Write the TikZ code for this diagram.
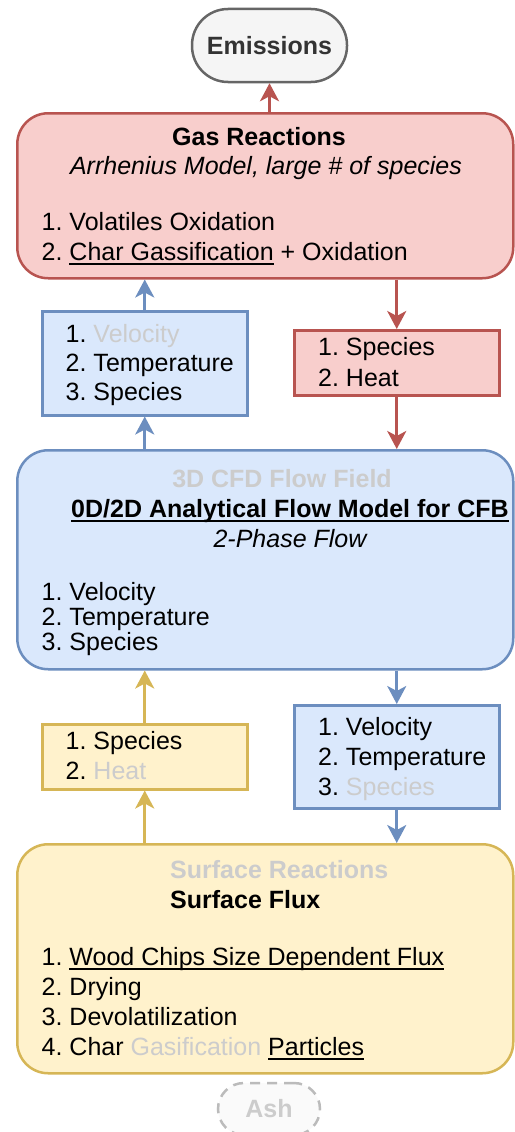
\documentclass[tikz,border=0pt]{standalone}
\usepackage{fontspec}
\setmainfont{Liberation Sans}
\usetikzlibrary{positioning,arrows.meta}

\definecolor{redfill}{HTML}{F8CECC}
\definecolor{redline}{HTML}{B85450}
\definecolor{bluefill}{HTML}{DAE8FC}
\definecolor{blueline}{HTML}{6C8EBF}
\definecolor{yelfill}{HTML}{FFF2CC}
\definecolor{yelline}{HTML}{D6B656}
\definecolor{faded}{HTML}{CCCCCC}
\definecolor{greyfill}{HTML}{F5F5F5}
\definecolor{greyline}{HTML}{666666}
\definecolor{greytext}{HTML}{333333}

\newcommand{\undl}[1]{\setbox0\hbox{#1}\rlap{\rule[-4.5pt]{\wd0}{2pt}}\box0\relax}
\newcommand{\grayed}[1]{\textcolor{faded}{#1}}
\frenchspacing

\begin{document}
\begin{tikzpicture}[x=1pt,y=-1pt,
  txt/.style={font=\fontsize{25}{30}\selectfont, inner sep=0pt, anchor=base west},
  head/.style={txt, anchor=base, font=\fontsize{25}{30}\selectfont\bfseries},
  subhead/.style={txt, anchor=base, font=\fontsize{25}{30}\selectfont\itshape},
  bigbox/.style={draw, line width=2.5pt, rounded corners=31pt, minimum width=496pt, anchor=north west},
  smallbox/.style={draw, line width=2.5pt, minimum width=205pt, anchor=north west},
  arr/.style={line width=3pt, -{Stealth[length=18pt,width=19pt,inset=5pt]}}]
\useasboundingbox (0,0) rectangle (514,1132);

% the three models
\node[bigbox, fill=redfill, draw=redline, minimum height=165pt] (gas) at (16,112) {};
\node[bigbox, fill=bluefill, draw=blueline, minimum height=219pt] (cfd) at (16,449) {};
\node[bigbox, fill=yelfill, draw=yelline, minimum height=229pt] (surf) at (16,843) {};

% exchanged quantities
\node[smallbox, fill=bluefill, draw=blueline, minimum height=104pt] (vel) at (41,310) {};
\node[smallbox, fill=redfill, draw=redline, minimum height=65pt] (rheat) at (293,329) {};
\node[smallbox, fill=yelfill, draw=yelline, minimum height=65pt] (yspec) at (41,723) {};
\node[smallbox, fill=bluefill, draw=blueline, minimum height=103pt] (bvel) at (293,704) {};

\node[draw=greyline, fill=greyfill, line width=2.5pt, rounded corners=36pt, minimum width=155pt, minimum height=73pt,
  font=\fontsize{25}{30}\selectfont\bfseries, text=greytext] (emis) at (269.5,45.5) {Emissions};
\node[draw={rgb,255:red,187;green,187;blue,187}, fill={rgb,255:red,250;green,250;blue,250}, line width=2.5pt, dash pattern=on 10pt off 7pt,
  rounded corners=26pt, minimum width=102pt, minimum height=52pt,
  font=\fontsize{25}{30}\selectfont\bfseries, text=faded] (ash) at (269,1109) {Ash};

% gas reactions
\node[head] (gastitle) at (259,145) {Gas Reactions};
\node[subhead] (gassub) at (266,174) {Arrhenius Model, large \# of species};
\node[txt] (gas1) at (41.5,230) {1. Volatiles Oxidation};
\node[txt] (gas2) at (41.5,260) {2. \undl{Char Gassification} + Oxidation};

\node[txt] (vel1) at (65.5,342) {1. \grayed{Velocity}};
\node[txt] (vel2) at (65.5,371) {2. Temperature};
\node[txt] (vel3) at (65.5,400) {3. Species};

\node[txt] (rheat1) at (318,355) {1. Species};
\node[txt] (rheat2) at (318,386) {2. Heat};

% flow model
\node[head, text=faded] (cfdold) at (282,487) {3D CFD Flow Field};
\node[head] (cfdtitle) at (290,517) {\undl{0D/2D Analytical Flow Model for CFB}};
\node[subhead] (cfdsub) at (290,547) {2-Phase Flow};
\node[txt] (cfd1) at (41.5,600) {1. Velocity};
\node[txt] (cfd2) at (41.5,625) {2. Temperature};
\node[txt] (cfd3) at (41.5,650) {3. Species};

\node[txt] (yspec1) at (65.5,749) {1. Species};
\node[txt] (yspec2) at (65.5,779) {2. \grayed{Heat}};

\node[txt] (bvel1) at (318,735) {1. Velocity};
\node[txt] (bvel2) at (318,765) {2. Temperature};
\node[txt] (bvel3) at (318,795) {3. \grayed{Species}};

% surface
\node[txt, font=\fontsize{25}{30}\selectfont\bfseries, text=faded] (surfold) at (170,878) {Surface Reactions};
\node[txt, font=\fontsize{25}{30}\selectfont\bfseries] (surftitle) at (170,908) {Surface Flux};
\node[txt] (surf1) at (41.5,965) {1. \undl{Wood Chips Size Dependent Flux}};
\node[txt] (surf2) at (41.5,995) {2. Drying};
\node[txt] (surf3) at (41.5,1025) {3. Devolatilization};
\node[txt] (surf4) at (41.5,1055) {4. Char \grayed{Gasification} \undl{Particles}};

\draw[arr, redline] (emis.south |- gas.north) -- (emis.south);
\draw[arr, blueline] (vel.north) -- (vel.north |- gas.south);
\draw[arr, blueline] (vel.south |- cfd.north) -- (vel.south);
\draw[arr, redline] (rheat.north |- gas.south) -- (rheat.north);
\draw[arr, redline] (rheat.south) -- (rheat.south |- cfd.north);
\draw[arr, yelline] (yspec.north) -- (yspec.north |- cfd.south);
\draw[arr, yelline] (yspec.south |- surf.north) -- (yspec.south);
\draw[arr, blueline] (bvel.north |- cfd.south) -- (bvel.north);
\draw[arr, blueline] (bvel.south) -- (bvel.south |- surf.north);
\end{tikzpicture}
\end{document}
